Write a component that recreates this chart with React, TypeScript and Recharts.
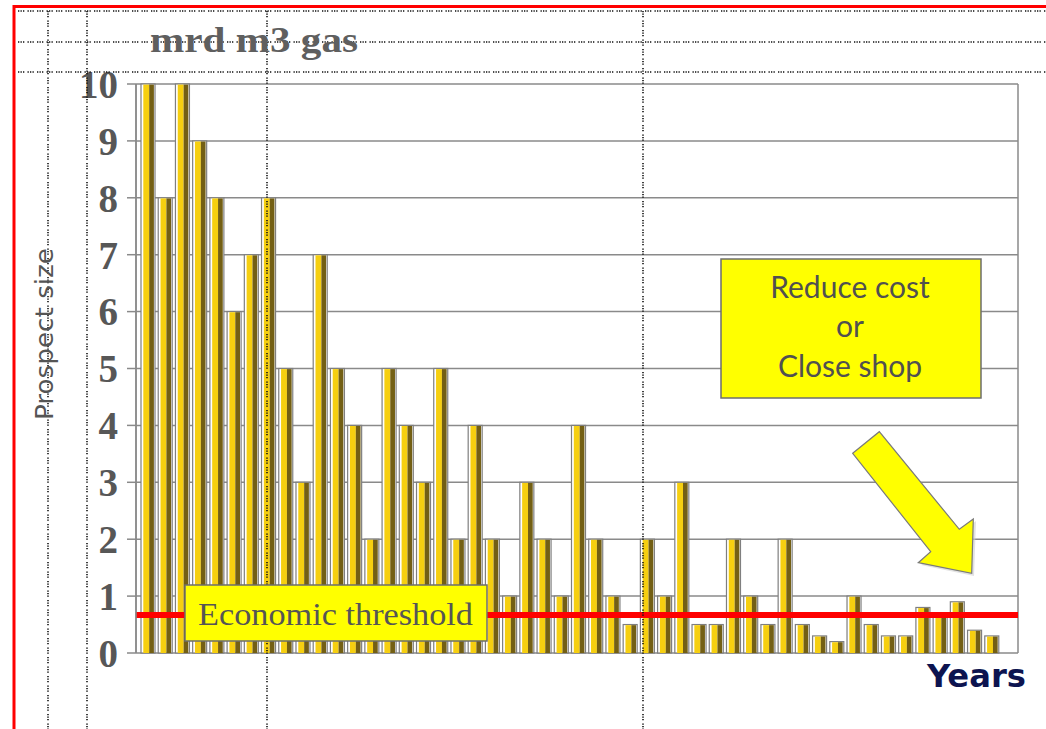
import { BarChart, Bar, XAxis, YAxis, CartesianGrid, ReferenceLine } from 'recharts';

// prospect sizes in mrd m3 gas, one bar per discovery, oldest first
const prospectSizes = [
  10, 8, 10, 9, 8, 6, 7, 8, 5, 3,
  7, 5, 4, 2, 5, 4, 3, 5, 2, 4,
  2, 1, 3, 2, 1, 4, 2, 1, 0.5, 2,
  1, 3, 0.5, 0.5, 2, 1, 0.5, 2, 0.5, 0.3,
  0.2, 1, 0.5, 0.3, 0.3, 0.8, 0.7, 0.9, 0.4, 0.3,
];
const discoveries = prospectSizes.map((_, i) => `${i + 1}`);
const yTicks = [0, 1, 2, 3, 4, 5, 6, 7, 8, 9, 10];
const economicThreshold = 0.67;

const chartData = discoveries.map((name, i) => ({ name, size: prospectSizes[i] }));

const W = 1046;
const H = 729;

const dots = '1.3 1.2 1.3 1.2 1.3 3.2';

// two-tone bar: light yellow face, dark olive side
const SplitBar = (props: any) => {
  const { x, y, width, height } = props;
  if (!height || height <= 0) return null;
  const face = width * 0.42;
  return (
    <g>
      <rect x={x} y={y} width={width} height={height} fill="#fff" stroke="#7f7f7f" strokeWidth={1.2} />
      <rect x={x + 2.3} y={y + 0.6} width={face} height={height - 0.6} fill="#f6cf10" />
      <rect x={x + 2.3 + face} y={y + 0.6} width={width - 3.4 - face} height={height - 0.6} fill="#735f14" />
    </g>
  );
};

export default function App() {
  return (
    <div style={{ position: 'absolute', left: 0, top: 0, width: W, height: H, background: '#fff' }}>
      <BarChart
        width={W}
        height={H}
        data={chartData}
        margin={{ top: 84, right: 28, bottom: 76, left: 0 }}
        barSize={14}
      >
        <CartesianGrid
          stroke="#8a8a8a"
          strokeWidth={1.5}
          verticalCoordinatesGenerator={({ offset }: any) => [offset.left, offset.left + offset.width]}
        />
        <XAxis dataKey="name" hide padding={{ left: 3, right: 18 }} />
        <YAxis
          width={136}
          domain={[0, 10]}
          ticks={yTicks}
          interval={0}
          axisLine={{ stroke: '#8a8a8a', strokeWidth: 1.5 }}
          tickLine={{ stroke: '#8a8a8a', strokeWidth: 1.5 }}
          tickSize={9}
          tickMargin={9}
          tick={{ fill: '#575757', fontSize: 39, fontWeight: 'bold', fontFamily: 'Liberation Serif' }}
        />
        <Bar dataKey="size" shape={SplitBar} isAnimationActive={false} />
        <ReferenceLine y={economicThreshold} stroke="#ff0000" strokeWidth={6} ifOverflow="extendDomain" />
      </BarChart>

      <svg width={W} height={H} style={{ position: 'absolute', left: 0, top: 0, pointerEvents: 'none' }}>
        {/* page frame */}
        <line x1={13} y1={6.5} x2={W} y2={6.5} stroke="#ff0000" strokeWidth={3} />
        <line x1={14} y1={5} x2={14} y2={H} stroke="#ff0000" strokeWidth={3} />

        {/* dotted layout guides */}
        <g stroke="#111" strokeWidth={1.6} strokeDasharray={dots} fill="none">
          <line x1={18} y1={11} x2={W} y2={11} />
          <line x1={18} y1={42} x2={W} y2={42} />
          <line x1={18} y1={72} x2={W} y2={72} />
          <line x1={48} y1={11} x2={48} y2={H} />
          <line x1={87} y1={11} x2={87} y2={H} />
          <line x1={267} y1={11} x2={267} y2={H} />
          <line x1={643} y1={11} x2={643} y2={H} />
        </g>

        <text x={150} y={52} fontFamily="Liberation Serif" fontWeight="bold" fontSize={35} fill="#5f5f5f" textLength={208} lengthAdjust="spacingAndGlyphs">
          mrd m3 gas
        </text>

        <text transform="translate(53,334) rotate(-90)" textAnchor="middle" fontFamily="DejaVu Sans" fontSize={25} fill="#555" textLength={172} lengthAdjust="spacingAndGlyphs">
          Prospect size
        </text>

        {/* threshold label */}
        <rect x={185} y={585} width={302} height={56} fill="#ffff00" stroke="#6e6e6e" strokeWidth={1.5} />
        <text x={335.5} y={625} textAnchor="middle" fontFamily="Liberation Serif" fontSize={32} fill="#555" textLength={275} lengthAdjust="spacingAndGlyphs">
          Economic threshold
        </text>

        {/* call-out */}
        <rect x={721} y={259} width={260} height={139} fill="#ffff00" stroke="#6e6e6e" strokeWidth={1.5} />
        <g textAnchor="middle" fontFamily="Lato" fontSize={30} fill="#505050">
          <text x={850} y={298}>Reduce cost</text>
          <text x={850} y={337}>or</text>
          <text x={850} y={377}>Close shop</text>
        </g>

        <polygon
          points="855,456 882,434 962,532 976,521 974,576 921,565 933,554"
          fill="#cfcfcf"
          opacity={0.6}
        />
        <polygon
          points="852.7,453.3 879.3,431.7 959.3,529.3 973.3,519 971.7,573.3 918.3,562.7 930.7,551.7"
          fill="#ffff00"
          stroke="#7a7a7a"
          strokeWidth={1.2}
        />

        <text x={927} y={687} fontFamily="DejaVu Sans" fontWeight="bold" fontSize={32} fill="#0d1450" textLength={99} lengthAdjust="spacingAndGlyphs">
          Years
        </text>
      </svg>
    </div>
  );
}
